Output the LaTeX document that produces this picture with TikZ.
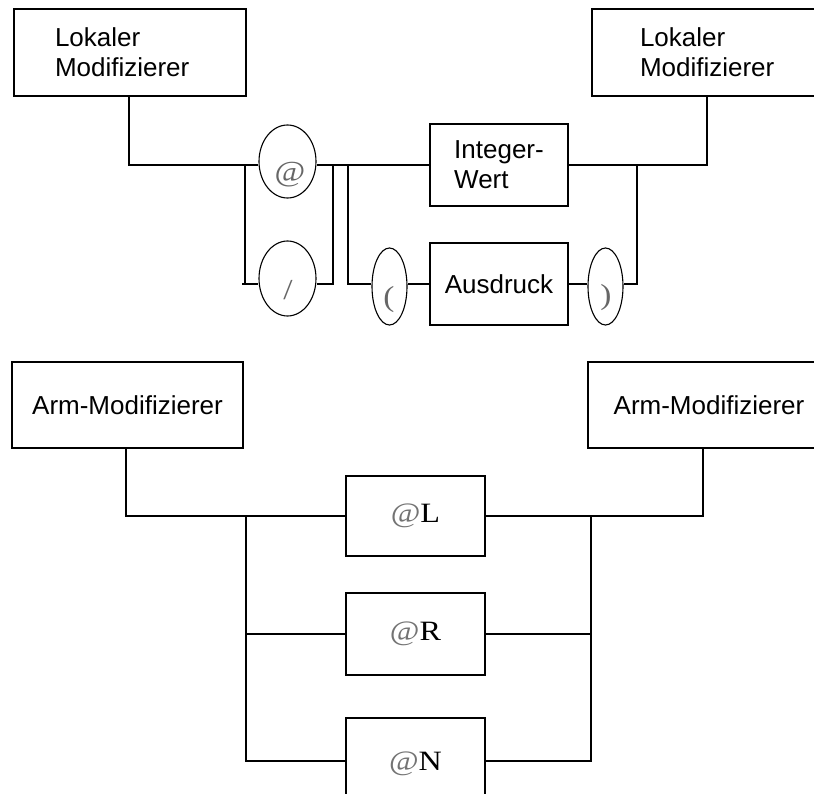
\documentclass[tikz,border=0pt]{standalone}
\usepackage{fontspec}
\setmainfont{Liberation Sans}
\newfontfamily\symfont[FakeStretch=1.15]{Liberation Serif}
\usetikzlibrary{shapes.geometric}
\newcommand{\atsign}{{\color{black!55}@}}

\begin{document}
\begin{tikzpicture}[x=1pt, y=-1pt, line width=1.4pt,
  box/.style={draw, rectangle, inner sep=0pt, font=\fontsize{26}{30}\selectfont},
  oval/.style={draw, ellipse, inner sep=0pt, line width=1.1pt},
  sym/.style={font=\symfont\fontsize{29}{29}\selectfont, text=black!60, inner sep=0pt},
  atbox/.style={draw, rectangle, inner sep=0pt, font=\symfont\fontsize{28}{30}\selectfont}]
  \useasboundingbox (0,0) rectangle (814,794);
  \clip (0,0) rectangle (814,794);

  % ---------- local modifier ----------
  \node[box, text width=150, inner xsep=41, minimum height=87, align=left] (lm1) at (130,52.5) {Lokaler\\Modifizierer};
  \node[box, text width=142, inner xsep=48, minimum height=87, align=left] (lm2) at (711,52.5) {Lokaler\\Modifizierer};

  \node[oval, minimum width=57, minimum height=73] (at) at (287.5,161.5) {};
  \node[sym] (atsym) at (290,175) {@};
  \node[oval, minimum width=57, minimum height=75] (sl) at (287.5,278.5) {};
  \node[sym] (slsym) at (288,290) {/};
  \node[oval, minimum width=35, minimum height=77] (lp) at (389.5,286.5) {};
  \node[sym] (lpsym) at (389,300) {(};
  \node[oval, minimum width=35, minimum height=77] (rp) at (605.5,286.5) {};
  \node[sym] (rpsym) at (606,298) {)};

  \node[box, minimum width=138, minimum height=82, align=left] (iw) at (499,165) {Integer-\\Wert};
  \node[box, minimum width=138, minimum height=82] (au) at (499,284) {Ausdruck};

  \coordinate (a1) at (129,165);
  \coordinate (ja) at (245,165);
  \coordinate (jab) at (245,284);
  \coordinate (jtick) at (242,284);
  \coordinate (jb) at (333,165);
  \coordinate (jc) at (348,165);
  \coordinate (jd) at (637,165);
  \coordinate (je) at (707,165);

  \draw (lm1.south -| a1) |- (at.west |- a1);
  \draw (ja) -- (jab);
  \draw (jtick) -- (sl.west |- jab);
  \draw (at.east |- a1) -- (iw.west |- a1);
  \draw (jb) |- (sl.east |- jab);
  \draw (jc) |- (lp.west |- jab);
  \draw (lp.east |- jab) -- (au.west |- jab);
  \draw (au.east |- jab) -- (rp.west |- jab);
  \draw (rp.east |- jab) -| (jd);
  \draw (iw.east |- je) -| (lm2.south -| je);

  % ---------- arm modifier ----------
  \node[box, minimum width=231, minimum height=86] (am1) at (127.5,405) {Arm-Modifizierer};
  \node[box, minimum width=242, minimum height=86] (am2) at (709,405) {Arm-Modifizierer};

  \node[atbox, minimum width=139, minimum height=80] (bl) at (415.5,516) {\atsign L};
  \node[atbox, minimum width=139, minimum height=82] (br) at (415.5,634) {\atsign R};
  \node[atbox, minimum width=139, minimum height=92] (bn) at (415.5,764) {\atsign N};

  \coordinate (k1) at (126,516);
  \coordinate (k2) at (703,516);
  \coordinate (kl) at (246,516);
  \coordinate (kl3) at (246,761);
  \coordinate (kr) at (591,516);
  \coordinate (kr3) at (591,761);

  \draw (am1.south -| k1) |- (bl.west |- k1);
  \draw (bl.east |- k2) -| (am2.south -| k2);
  \draw (kl) -- (kl3) -- (bn.west |- kl3);
  \draw (kl |- br.west) -- (br.west);
  \draw (kr) -- (kr3) -- (bn.east |- kr3);
  \draw (br.east) -- (kr |- br.east);
\end{tikzpicture}
\end{document}
